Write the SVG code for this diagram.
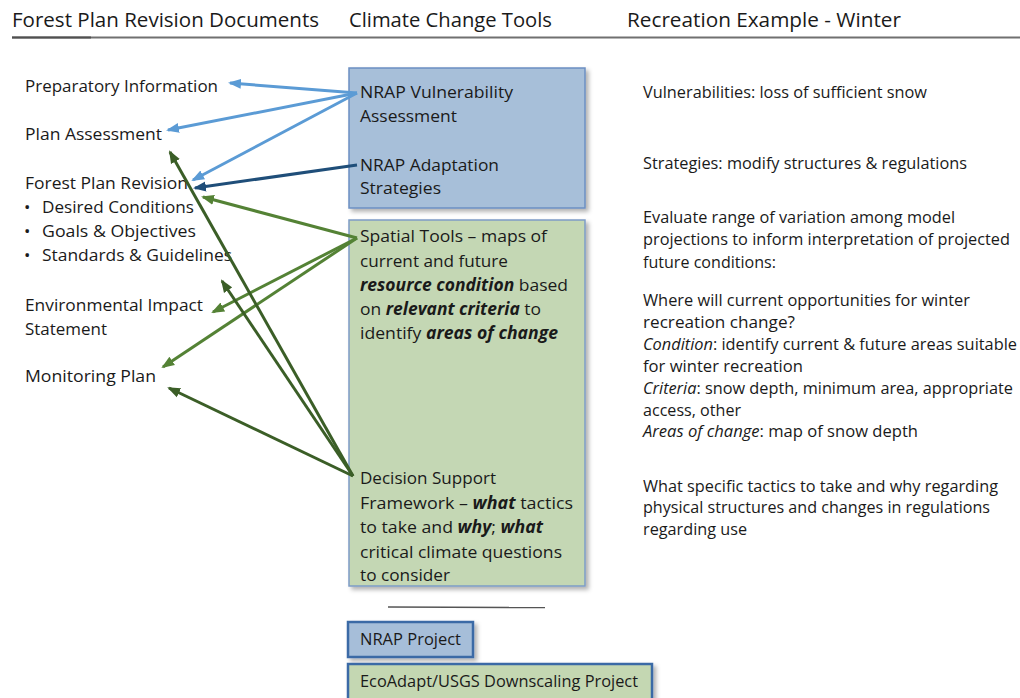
<svg xmlns="http://www.w3.org/2000/svg" width="1020" height="698" viewBox="0 0 1020 698">
  <defs>
    <filter id="shadow" x="-10%" y="-10%" width="120%" height="125%">
      <feDropShadow dx="3" dy="3" stdDeviation="2" flood-color="#000" flood-opacity="0.3"/>
    </filter>
    <marker id="ah-lblue" markerUnits="userSpaceOnUse" markerWidth="13" markerHeight="11" refX="11" refY="5.5" orient="auto">
      <path d="M0,0.5 L13,5.5 L0,10.5 Z" fill="#5b9bd5"/>
    </marker>
    <marker id="ah-dblue" markerUnits="userSpaceOnUse" markerWidth="13" markerHeight="11" refX="11" refY="5.5" orient="auto">
      <path d="M0,0.5 L13,5.5 L0,10.5 Z" fill="#1f4e79"/>
    </marker>
    <marker id="ah-green" markerUnits="userSpaceOnUse" markerWidth="13" markerHeight="11" refX="11" refY="5.5" orient="auto">
      <path d="M0,0.5 L13,5.5 L0,10.5 Z" fill="#548235"/>
    </marker>
    <marker id="ah-dgreen" markerUnits="userSpaceOnUse" markerWidth="13" markerHeight="11" refX="11" refY="5.5" orient="auto">
      <path d="M0,0.5 L13,5.5 L0,10.5 Z" fill="#3b5e27"/>
    </marker>
    <style>
      text { font-family: "Open Sans", "Noto Sans", "Liberation Sans", sans-serif; fill: #1a1a1a; }
      .hdr { font-size: 20px; }
      .doc { font-size: 17px; }
      .tool { font-size: 17px; }
      .ex { font-size: 15.5px; }
      .bi { font-weight: bold; font-style: italic; }
      .it { font-style: italic; }
      .box-blue { fill: #a7bfd9; stroke: #6b8fc2; stroke-width: 1.5; }
      .box-green { fill: #c4d7b4; stroke: #7d9cc6; stroke-width: 1.5; }
      .key-blue { fill: #a6bed9; stroke: #3a6aa6; stroke-width: 2.5; }
      .key-green { fill: #c4d7b2; stroke: #3a6aa6; stroke-width: 2.5; }
      .conn { fill: none; stroke-width: 3; }
      .lblue { stroke: #5b9bd5; marker-end: url(#ah-lblue); }
      .dblue { stroke: #1f4e79; marker-end: url(#ah-dblue); }
      .green { stroke: #548235; marker-end: url(#ah-green); }
      .dgreen { stroke: #3b5e27; marker-end: url(#ah-dgreen); }
    </style>
  </defs>

  <rect width="1020" height="698" fill="#ffffff"/>

  <!-- column headings -->
  <g id="headings">
    <text class="hdr" x="12" y="27" textLength="307" lengthAdjust="spacingAndGlyphs">Forest Plan Revision Documents</text>
    <text class="hdr" x="349" y="27" textLength="203" lengthAdjust="spacingAndGlyphs">Climate Change Tools</text>
    <text class="hdr" x="627" y="27" textLength="274" lengthAdjust="spacingAndGlyphs">Recreation Example - Winter</text>
    <line x1="12" y1="37.5" x2="1020" y2="37.5" stroke="#707070" stroke-width="2"/>
    <line x1="12" y1="37.5" x2="91" y2="37.5" stroke="#505050" stroke-width="2"/>
  </g>

  <!-- planning documents -->
  <g id="doc-preparatory">
    <text class="doc" x="25" y="92" textLength="193" lengthAdjust="spacingAndGlyphs">Preparatory Information</text>
  </g>
  <g id="doc-assessment">
    <text class="doc" x="25" y="140" textLength="137" lengthAdjust="spacingAndGlyphs">Plan Assessment</text>
  </g>
  <g id="doc-revision">
    <text class="doc" x="25" y="189" textLength="163" lengthAdjust="spacingAndGlyphs">Forest Plan Revision</text>
    <text class="doc" x="24" y="213">•</text>
    <text class="doc" x="42" y="213" textLength="152" lengthAdjust="spacingAndGlyphs">Desired Conditions</text>
    <text class="doc" x="24" y="237">•</text>
    <text class="doc" x="42" y="237" textLength="154" lengthAdjust="spacingAndGlyphs">Goals &amp; Objectives</text>
    <text class="doc" x="24" y="261">•</text>
    <text class="doc" x="42" y="261" textLength="190" lengthAdjust="spacingAndGlyphs">Standards &amp; Guidelines</text>
  </g>
  <g id="doc-eis">
    <text class="doc" x="25" y="311" textLength="178" lengthAdjust="spacingAndGlyphs">Environmental Impact</text>
    <text class="doc" x="25" y="335" textLength="82" lengthAdjust="spacingAndGlyphs">Statement</text>
  </g>
  <g id="doc-monitoring">
    <text class="doc" x="25" y="382" textLength="131" lengthAdjust="spacingAndGlyphs">Monitoring Plan</text>
  </g>

  <!-- climate change tools -->
  <g id="tool-nrap">
    <rect class="box-blue" x="349" y="68" width="236" height="140" filter="url(#shadow)"/>
    <text class="tool" x="360" y="98" textLength="153" lengthAdjust="spacingAndGlyphs">NRAP Vulnerability</text>
    <text class="tool" x="360" y="122" textLength="97" lengthAdjust="spacingAndGlyphs">Assessment</text>
    <text class="tool" x="360" y="171" textLength="139" lengthAdjust="spacingAndGlyphs">NRAP Adaptation</text>
    <text class="tool" x="360" y="194" textLength="81" lengthAdjust="spacingAndGlyphs">Strategies</text>
  </g>
  <g id="tool-spatial">
    <rect class="box-green" x="349" y="220" width="236" height="366" filter="url(#shadow)"/>
    <text class="tool" x="360" y="242" textLength="187" lengthAdjust="spacingAndGlyphs">Spatial Tools – maps of</text>
    <text class="tool" x="360" y="267" textLength="148" lengthAdjust="spacingAndGlyphs">current and future</text>
    <text class="tool" x="360" y="291" textLength="208" lengthAdjust="spacingAndGlyphs"><tspan class="bi">resource condition</tspan> based</text>
    <text class="tool" x="360" y="315" textLength="181" lengthAdjust="spacingAndGlyphs">on <tspan class="bi">relevant criteria</tspan> to</text>
    <text class="tool" x="360" y="339" textLength="198" lengthAdjust="spacingAndGlyphs">identify <tspan class="bi">areas of change</tspan></text>
  </g>
  <g id="tool-decision">
    <text class="tool" x="360" y="484" textLength="136" lengthAdjust="spacingAndGlyphs">Decision Support</text>
    <text class="tool" x="360" y="509" textLength="213" lengthAdjust="spacingAndGlyphs">Framework  – <tspan class="bi">what</tspan> tactics</text>
    <text class="tool" x="360" y="533" textLength="183" lengthAdjust="spacingAndGlyphs">to take and <tspan class="bi">why</tspan>; <tspan class="bi">what</tspan></text>
    <text class="tool" x="360" y="558" textLength="202" lengthAdjust="spacingAndGlyphs">critical climate questions</text>
    <text class="tool" x="360" y="581" textLength="90" lengthAdjust="spacingAndGlyphs">to consider</text>
  </g>

  <!-- key -->
  <g id="key">
    <line x1="388" y1="607" x2="545" y2="607.5" stroke="#555555" stroke-width="1.5"/>
    <g id="key-nrap">
      <rect class="key-blue" x="348" y="622" width="125" height="35" filter="url(#shadow)"/>
      <text class="tool" x="360" y="645" textLength="101" lengthAdjust="spacingAndGlyphs">NRAP Project</text>
    </g>
    <g id="key-ecoadapt">
      <rect class="key-green" x="348" y="664" width="304" height="40" filter="url(#shadow)"/>
      <text class="tool" x="360" y="687" textLength="278" lengthAdjust="spacingAndGlyphs">EcoAdapt/USGS Downscaling Project</text>
    </g>
  </g>

  <!-- winter recreation example -->
  <g id="example-vulnerabilities">
    <text class="ex" x="643" y="98" textLength="284" lengthAdjust="spacingAndGlyphs">Vulnerabilities: loss of sufficient snow</text>
  </g>
  <g id="example-strategies">
    <text class="ex" x="643" y="169" textLength="324" lengthAdjust="spacingAndGlyphs">Strategies: modify structures &amp; regulations</text>
  </g>
  <g id="example-evaluate">
    <text class="ex" x="643" y="223" textLength="312" lengthAdjust="spacingAndGlyphs">Evaluate range of variation among model</text>
    <text class="ex" x="643" y="245" textLength="367" lengthAdjust="spacingAndGlyphs">projections to inform interpretation of projected</text>
    <text class="ex" x="643" y="268" textLength="133" lengthAdjust="spacingAndGlyphs">future conditions:</text>
  </g>
  <g id="example-spatial">
    <text class="ex" x="643" y="306" textLength="327" lengthAdjust="spacingAndGlyphs">Where will current opportunities for winter</text>
    <text class="ex" x="643" y="328" textLength="152" lengthAdjust="spacingAndGlyphs">recreation change?</text>
    <text class="ex" x="643" y="350" textLength="374" lengthAdjust="spacingAndGlyphs"><tspan class="it">Condition</tspan>: identify current &amp; future areas suitable</text>
    <text class="ex" x="643" y="372" textLength="160" lengthAdjust="spacingAndGlyphs">for winter recreation</text>
    <text class="ex" x="643" y="394" textLength="370" lengthAdjust="spacingAndGlyphs"><tspan class="it">Criteria</tspan>: snow depth, minimum area, appropriate</text>
    <text class="ex" x="643" y="416" textLength="98" lengthAdjust="spacingAndGlyphs">access, other</text>
    <text class="ex" x="643" y="437" textLength="275" lengthAdjust="spacingAndGlyphs"><tspan class="it">Areas of change</tspan>: map of snow depth</text>
  </g>
  <g id="example-tactics">
    <text class="ex" x="643" y="492" textLength="355" lengthAdjust="spacingAndGlyphs">What specific tactics to take and why regarding</text>
    <text class="ex" x="643" y="513" textLength="347" lengthAdjust="spacingAndGlyphs">physical structures and changes in regulations</text>
    <text class="ex" x="643" y="535" textLength="104" lengthAdjust="spacingAndGlyphs">regarding use</text>
  </g>

  <!-- connectors from tools to planning documents -->
  <g id="connectors" class="conn">
    <path class="conn lblue" d="M357,93 L230,83"/>
    <path class="conn lblue" d="M357,93 L168,130"/>
    <path class="conn lblue" d="M357,93 L193,180"/>
    <path class="conn dblue" d="M357,165 L195,188"/>
    <path class="conn green" d="M357,238 L203,197"/>
    <path class="conn green" d="M357,238 L213,312"/>
    <path class="conn green" d="M357,238 L163,367"/>
    <path class="conn dgreen" d="M353,476 L170,152"/>
    <path class="conn dgreen" d="M353,476 L222,281"/>
    <path class="conn dgreen" d="M353,476 L169,388"/>
  </g>
</svg>
